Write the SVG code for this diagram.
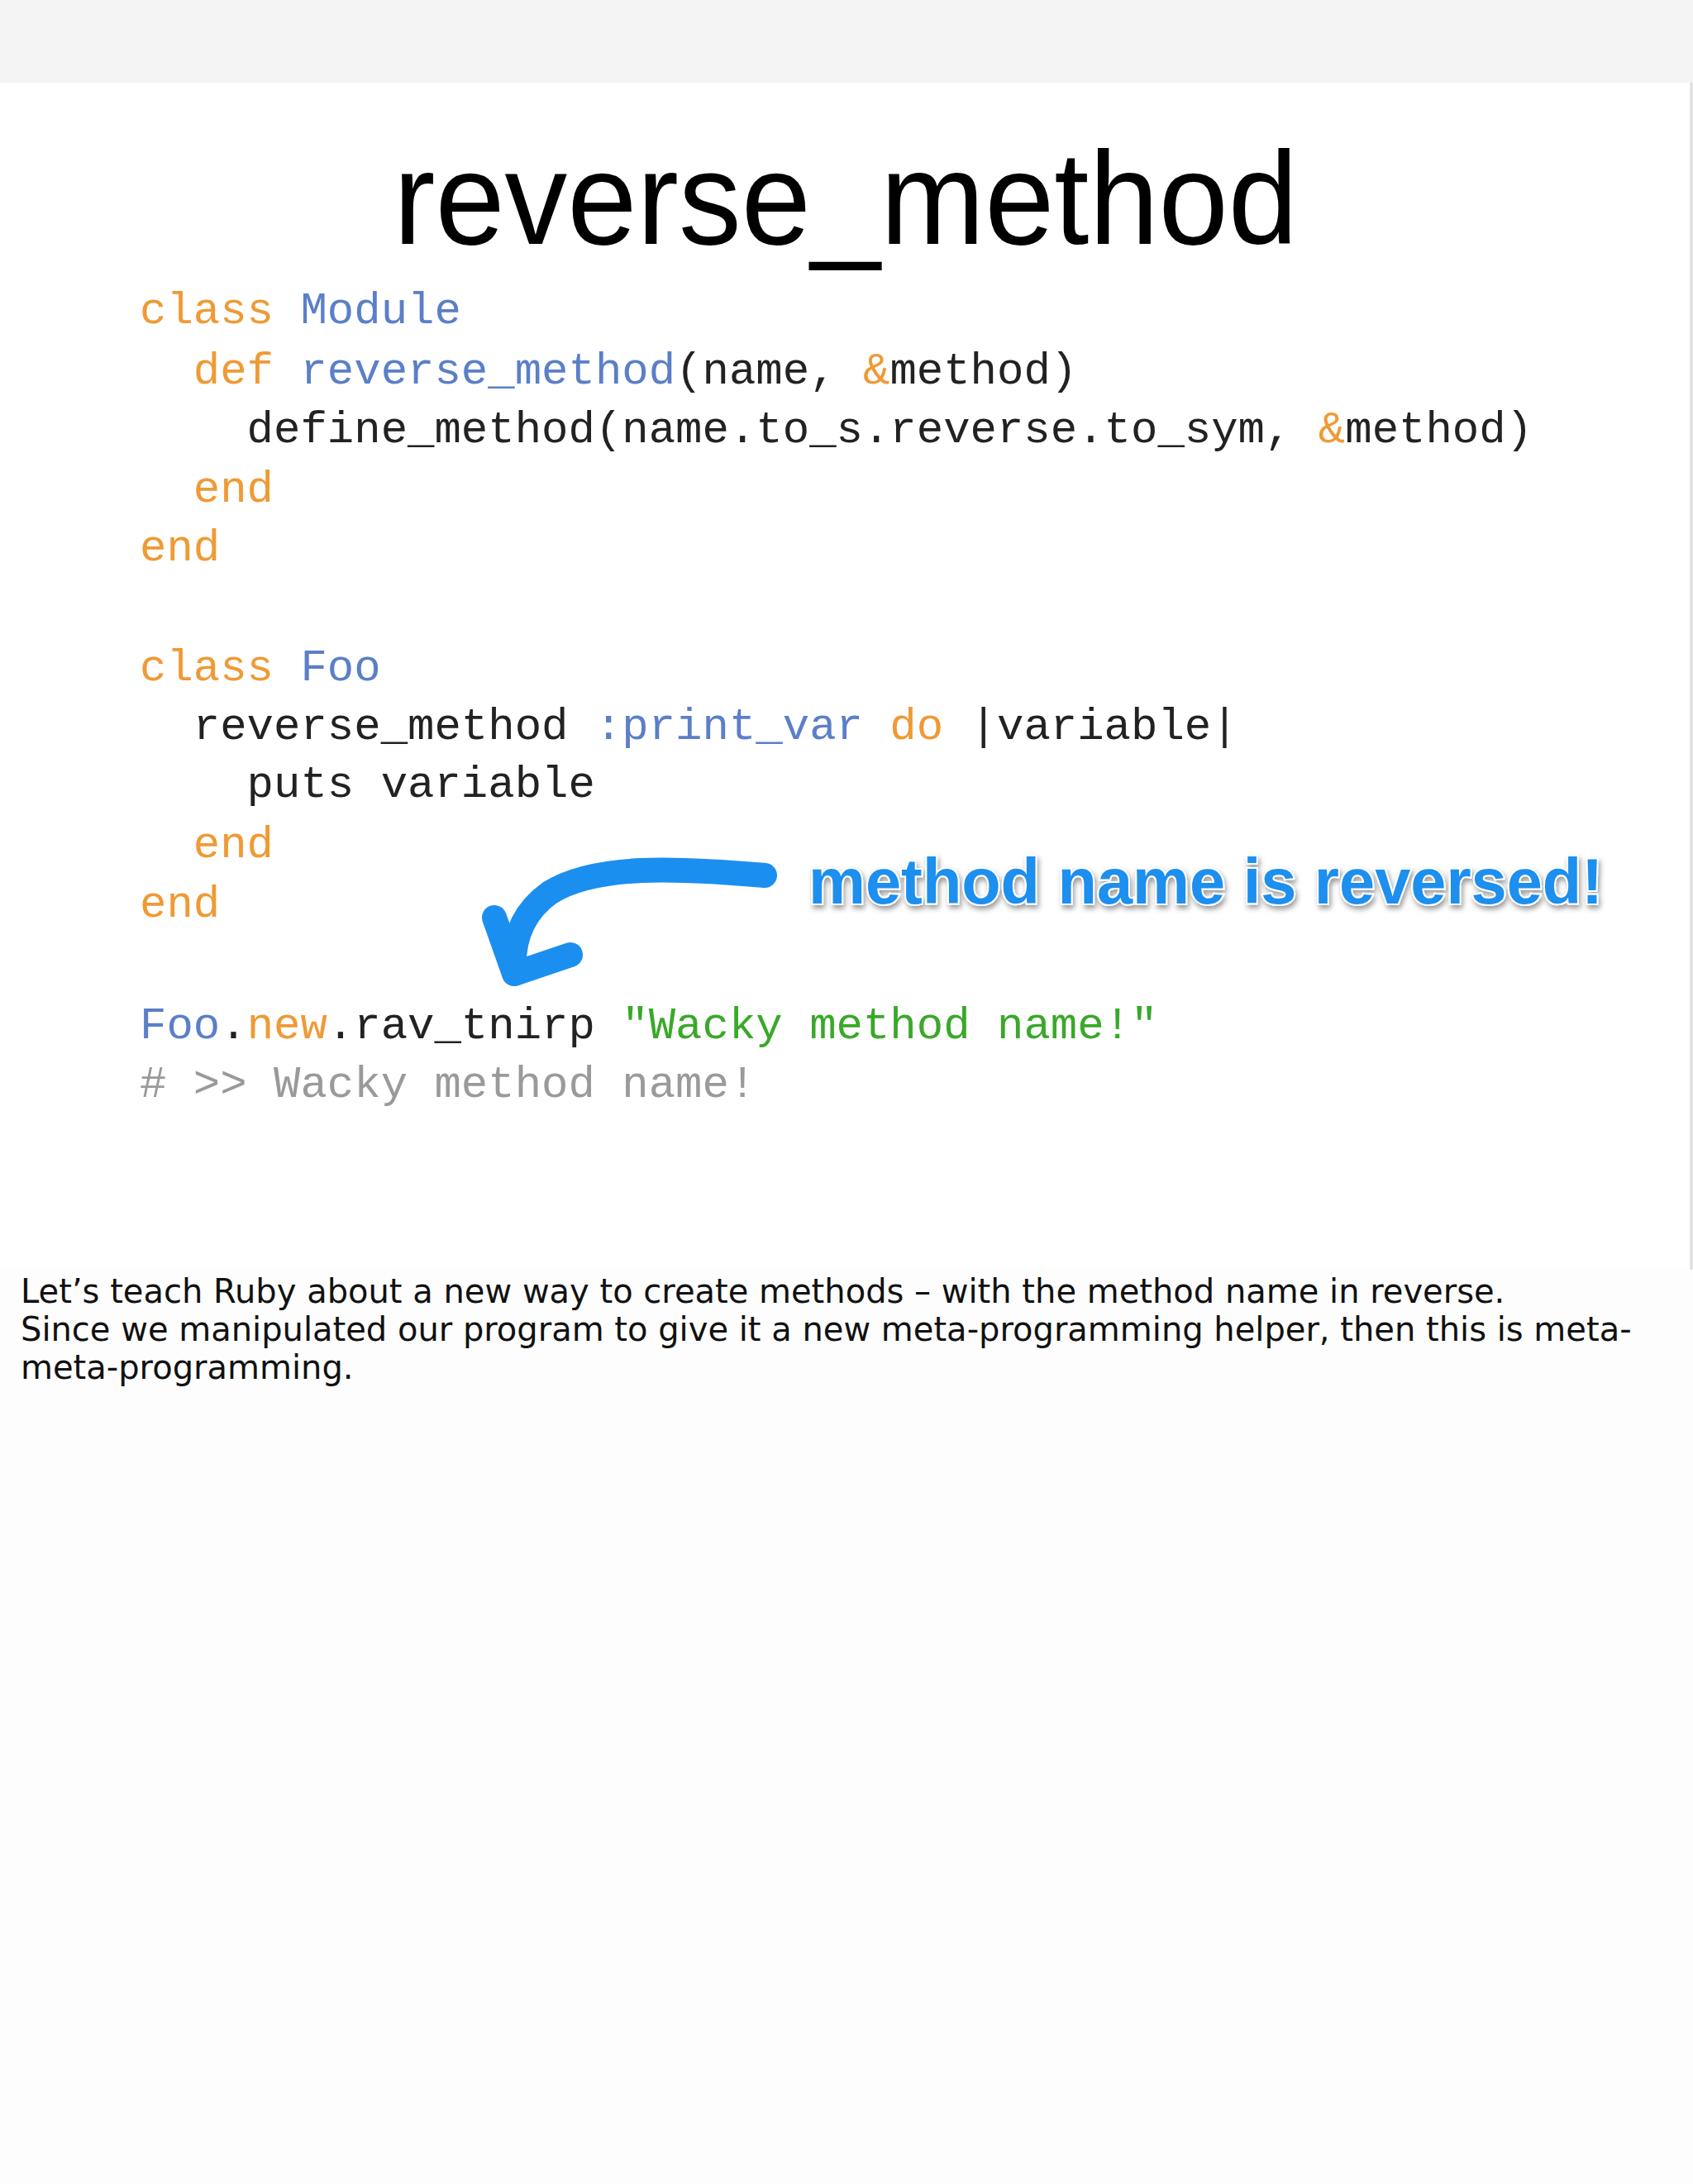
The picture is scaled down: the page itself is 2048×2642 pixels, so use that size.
<svg xmlns="http://www.w3.org/2000/svg" width="2048" height="2642" viewBox="0 0 2048 2642">
<style>
.c{font-family:"Liberation Mono","DejaVu Sans Mono",monospace;font-size:54px;fill:#222}
.o{fill:#ef9a35}.b{fill:#5b7fc8}.g{fill:#3aa82a}.gr{fill:#9a9a9a}
.n{font-family:"DejaVu Sans","Liberation Sans",sans-serif;font-size:40px;fill:#111}
</style>
<defs><filter id="sh" x="-5%" y="-20%" width="110%" height="150%"><feDropShadow dx="2" dy="4" stdDeviation="3" flood-color="#000" flood-opacity="0.4"/></filter></defs>
<rect width="2048" height="2642" fill="#fdfdfd"/>
<rect width="2048" height="100" fill="#f4f4f4"/>
<rect x="0" y="100" width="2045" height="1436" fill="#fff"/>
<line x1="2046" y1="100" x2="2046" y2="1536" stroke="#ddd" stroke-width="3"/>
<g id="title"><text x="1023" y="295" text-anchor="middle" font-family="'Liberation Sans',sans-serif" font-size="160" fill="#000" textLength="1094" lengthAdjust="spacingAndGlyphs">reverse_method</text></g>
<g id="code">
<text class="c" x="169" y="391" xml:space="preserve"><tspan class="o">class</tspan> <tspan class="b">Module</tspan></text>
<text class="c" x="169" y="464" xml:space="preserve">  <tspan class="o">def</tspan> <tspan class="b">reverse_method</tspan>(name, <tspan class="o">&amp;</tspan>method)</text>
<text class="c" x="169" y="535" xml:space="preserve">    define_method(name.to_s.reverse.to_sym, <tspan class="o">&amp;</tspan>method)</text>
<text class="c o" x="169" y="607" xml:space="preserve">  end</text>
<text class="c o" x="169" y="678">end</text>
<text class="c" x="169" y="823" xml:space="preserve"><tspan class="o">class</tspan> <tspan class="b">Foo</tspan></text>
<text class="c" x="169" y="894" xml:space="preserve">  reverse_method <tspan class="b">:print_var</tspan> <tspan class="o">do</tspan> |variable|</text>
<text class="c" x="169" y="964" xml:space="preserve">    puts variable</text>
<text class="c o" x="169" y="1037" xml:space="preserve">  end</text>
<text class="c o" x="169" y="1109">end</text>
<text class="c" x="169" y="1256" xml:space="preserve"><tspan class="b">Foo</tspan>.<tspan class="o">new</tspan>.rav_tnirp <tspan class="g">"Wacky method name!"</tspan></text>
<text class="c gr" x="169" y="1327" xml:space="preserve"># &gt;&gt; Wacky method name!</text>
</g>
<g id="annotation"><text x="978" y="1093" font-family="'Liberation Sans',sans-serif" font-weight="bold" font-size="78" fill="#1e8fef" stroke="#fff" stroke-width="4" paint-order="stroke" filter="url(#sh)" textLength="961" lengthAdjust="spacingAndGlyphs">method name is reversed!</text></g>
<g id="connectors" fill="none" stroke="#1a8ff0" stroke-linecap="round" stroke-linejoin="round">
<path d="M925 1059 C820 1050 720 1045 665 1080 C630 1105 620 1140 622 1175" stroke-width="30"/>
<path d="M598 1110 L622 1178 L690 1155" stroke-width="30"/>
</g>
<g id="notes">
<text class="n" x="25" y="1576">Let’s teach Ruby about a new way to create methods – with the method name in reverse.</text>
<text class="n" x="25" y="1622">Since we manipulated our program to give it a new meta-programming helper, then this is meta-</text>
<text class="n" x="25" y="1668">meta-programming.</text>
</g>
</svg>
